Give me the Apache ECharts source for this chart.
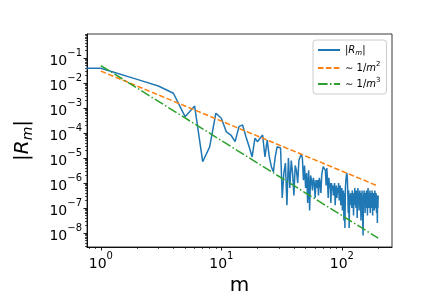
<!DOCTYPE html>
<html><head><meta charset="utf-8">
<script src="https://cdn.jsdelivr.net/npm/echarts@6/dist/echarts.min.js"></script>
<style>html,body{margin:0;padding:0;background:#fff}#c{width:436px;height:291px}</style>
</head><body><div id="c"></div>
<script>
// |R_m| for m = 1..200
const Rm = [
3.9e-2,1.4e-2,7.6e-3,3.9e-3,4.5e-4,1.2e-3,7.1e-6,2.8e-5,6.2e-4,3.9e-4,
1.1e-4,8.3e-5,4.5e-5,1.8e-4,2.1e-4,7.1e-5,2.8e-5,1.1e-5,6.2e-5,4.5e-5,
6.3e-5,8.3e-5,1.1e-5,5.2e-5,1.1e-5,4.5e-6,2.8e-6,1.1e-5,2.8e-5,3.2e-5,
2.5e-5,2.5e-7,2.5e-6,6.3e-6,1.3e-7,1.0e-5,6.3e-7,7.9e-6,2.5e-6,3.2e-7,
5.0e-6,3.2e-6,1.0e-6,7.9e-6,1.1e-5,1.4e-5,1.0e-5,1.3e-6,5.0e-6,6.3e-7,
2.5e-6,1.6e-7,3.2e-6,7.9e-8,2.0e-6,1.3e-6,5.0e-7,1.6e-6,1.0e-6,2.5e-7,
1.3e-6,6.3e-7,1.3e-6,3.2e-7,1.6e-6,1.0e-6,4.0e-7,2.0e-6,3.2e-6,4.5e-6,
5.0e-6,5.0e-6,3.2e-6,7.9e-7,4.0e-6,1.3e-6,2.5e-7,1.6e-6,6.3e-7,1.0e-6,
1.6e-7,1.0e-6,5.0e-7,7.9e-7,3.2e-7,6.3e-7,1.0e-6,1.3e-7,5.0e-7,7.9e-7,
2.5e-7,6.3e-7,4.0e-7,1.0e-6,2.0e-7,5.0e-7,7.9e-7,1.3e-7,4.0e-7,6.3e-7,
7.9e-8,3.2e-7,5.0e-7,3.2e-8,4.0e-7,1.6e-8,6.3e-7,1.3e-6,2.0e-6,2.5e-6,
1.6e-6,4.0e-7,6.3e-8,5.0e-7,1.6e-8,3.2e-7,1.3e-7,4.0e-7,2.0e-7,3.2e-7,
1.0e-7,5.0e-7,1.6e-7,3.2e-7,5.0e-8,4.0e-7,2.0e-7,6.3e-7,1.3e-7,2.5e-7,
1.0e-7,5.0e-7,2.5e-7,4.0e-8,3.2e-7,6.3e-7,1.6e-7,4.0e-7,7.9e-8,3.2e-7,
5.0e-7,1.3e-7,2.5e-7,3.2e-8,4.0e-7,1.6e-7,5.0e-7,1.0e-7,2.5e-8,7.9e-9,
1.3e-7,3.2e-7,5.0e-7,1.6e-7,3.2e-7,6.3e-8,4.0e-7,2.5e-7,1.0e-7,5.0e-7,
1.6e-7,3.2e-7,5.0e-8,4.0e-7,6.3e-7,1.3e-7,2.5e-7,1.0e-7,4.0e-7,2.0e-7,
5.0e-7,6.3e-8,2.5e-7,4.0e-7,1.3e-7,3.2e-7,1.0e-7,5.0e-7,2.5e-7,5.0e-8,
3.2e-7,1.6e-7,4.0e-7,1.3e-7,2.5e-7,7.9e-8,3.2e-7,5.0e-7,1.6e-7,2.5e-7,
1.0e-7,4.0e-7,2.0e-7,6.3e-8,3.2e-7,1.6e-7,2.5e-8,2.5e-7,1.0e-7,3.2e-7
];
// value at m = 0: matplotlib clips it off the left edge (drawn at a tiny stand-in m)
const R0 = 3.9e-2;
const m0Clip = 1e-3;
// reference power laws (endpoints, straight in log-log)
const refM = [1, 200];
const ref2 = [3.0e-2, 7.5e-7];
const ref3 = [5.0e-2, 6.25e-9];
// ticks
const xMajor = [1, 10, 100];
const yMajor = [1e-8, 1e-7, 1e-6, 1e-5, 1e-4, 1e-3, 1e-2, 1e-1];
const minorMult = [2, 3, 4, 5, 6, 7, 8, 9];
const xDecades = [0.1, 1, 10, 100];
const yDecades = [1e-9, 1e-8, 1e-7, 1e-6, 1e-5, 1e-4, 1e-3, 1e-2, 1e-1];

const xMin = Math.pow(10, -0.115), xMax = Math.pow(10, 2.416);
const yMin = Math.pow(10, -8.56), yMax = Math.pow(10, -0.04);

function minors(decs) { const o = []; decs.forEach(d => minorMult.forEach(k => o.push(+(k * d).toPrecision(3)))); return o; }
const xMinor = minors(xDecades).filter(v => v > xMin && v < xMax);
const yMinor = minors(yDecades).filter(v => v > yMin && v < yMax);

const blueData = [[m0Clip, R0]].concat(Rm.map((v, i) => [i + 1, v]));

const FONT = 'DejaVu Sans';
function powLabel(v) {
  const e = Math.round(Math.log10(v));
  return '{b|10}{s|' + (e < 0 ? '\u2212' + (-e) : e) + '}';
}
const labRich = {
  b: { fontSize: 14, fontFamily: FONT, color: '#000', lineHeight: 20, verticalAlign: 'bottom' },
  s: { fontSize: 10, fontFamily: FONT, color: '#000', lineHeight: 20, verticalAlign: 'top' }
};
const AX = '#000';

const chart = echarts.init(document.getElementById('c'), null, { renderer: 'canvas' });
chart.setOption({
  animation: false,
  backgroundColor: '#fff',
  grid: { left: 87, right: 44, top: 34, bottom: 44, containLabel: false, outerBoundsMode: 'none',
    show: true, borderColor: '#222', borderWidth: 0.9, backgroundColor: 'transparent' },
  xAxis: [
    { type: 'log', logBase: 10, min: xMin, max: xMax, position: 'bottom',
      axisLine: { lineStyle: { color: AX, width: 0.9 } },
      axisTick: { length: 3.5, lineStyle: { color: AX, width: 0.9 }, customValues: xMajor },
      axisLabel: { customValues: xMajor, formatter: powLabel, rich: labRich, margin: 4 },
      splitLine: { show: false },
      name: 'm', nameLocation: 'middle', nameGap: 15,
      nameTextStyle: { fontSize: 20, fontFamily: FONT, color: '#000' } },
    { type: 'log', logBase: 10, min: xMin, max: xMax, position: 'bottom', gridIndex: 0,
      axisLine: { show: false },
      axisTick: { length: 2, lineStyle: { color: AX, width: 0.7 }, customValues: xMinor },
      axisLabel: { show: false }, splitLine: { show: false } }
  ],
  yAxis: [
    { type: 'log', logBase: 10, min: yMin, max: yMax, position: 'left',
      axisLine: { lineStyle: { color: AX, width: 0.9 } },
      axisTick: { length: 3.5, lineStyle: { color: AX, width: 0.9 }, customValues: yMajor },
      axisLabel: { customValues: yMajor, formatter: powLabel, rich: labRich, margin: 5 },
      splitLine: { show: false },
      name: '|{i|R}{s|m}|', nameLocation: 'middle', nameGap: 52, nameRotate: 90,
      nameTextStyle: { fontSize: 20, fontFamily: FONT, color: '#000',
        rich: { i: { fontSize: 20, fontStyle: 'italic', fontFamily: FONT, color: '#000', verticalAlign: 'middle', lineHeight: 24 },
                s: { fontSize: 14, fontStyle: 'italic', fontFamily: FONT, color: '#000', verticalAlign: 'bottom', lineHeight: 24 } } } },
    { type: 'log', logBase: 10, min: yMin, max: yMax, position: 'left', gridIndex: 0,
      axisLine: { show: false },
      axisTick: { length: 2, lineStyle: { color: AX, width: 0.7 }, customValues: yMinor },
      axisLabel: { show: false }, splitLine: { show: false } }
  ],
  legend: {
    orient: 'vertical', left: 313, top: 40,
    padding: [5, 6, 5, 4], itemGap: 4, itemWidth: 22, itemHeight: 12,
    borderColor: '#ccc', borderWidth: 1, borderRadius: 3, backgroundColor: '#fff',
    itemStyle: { opacity: 0 },
    textStyle: { fontSize: 10, fontFamily: FONT, color: '#000',
      rich: { i: { fontSize: 10, fontStyle: 'italic', fontFamily: FONT },
              sb: { fontSize: 7, fontStyle: 'italic', fontFamily: FONT, verticalAlign: 'bottom', lineHeight: 14 },
              sp: { fontSize: 7, fontFamily: FONT, verticalAlign: 'top', lineHeight: 14 } } },
    formatter: function (n) {
      if (n === 'Rm') return '|{i|R}{sb|m}|';
      if (n === 'p2') return '\u223C 1/{i|m}{sp|2}';
      return '\u223C 1/{i|m}{sp|3}';
    },
    data: ['Rm', 'p2', 'p3']
  },
  series: [
    { name: 'Rm', type: 'line', data: blueData, symbol: 'none', clip: true,
      lineStyle: { color: '#1f77b4', width: 1.5 }, itemStyle: { color: '#1f77b4' } },
    { name: 'p2', type: 'line', data: refM.map((m, i) => [m, ref2[i]]), symbol: 'none',
      lineStyle: { color: '#ff7f0e', width: 1.5, type: [5.5, 2.4] }, itemStyle: { color: '#ff7f0e' } },
    { name: 'p3', type: 'line', data: refM.map((m, i) => [m, ref3[i]]), symbol: 'none',
      lineStyle: { color: '#2ca02c', width: 1.5, type: [9.6, 2.4, 1.5, 2.4] }, itemStyle: { color: '#2ca02c' } }
  ]
});
</script></body></html>
